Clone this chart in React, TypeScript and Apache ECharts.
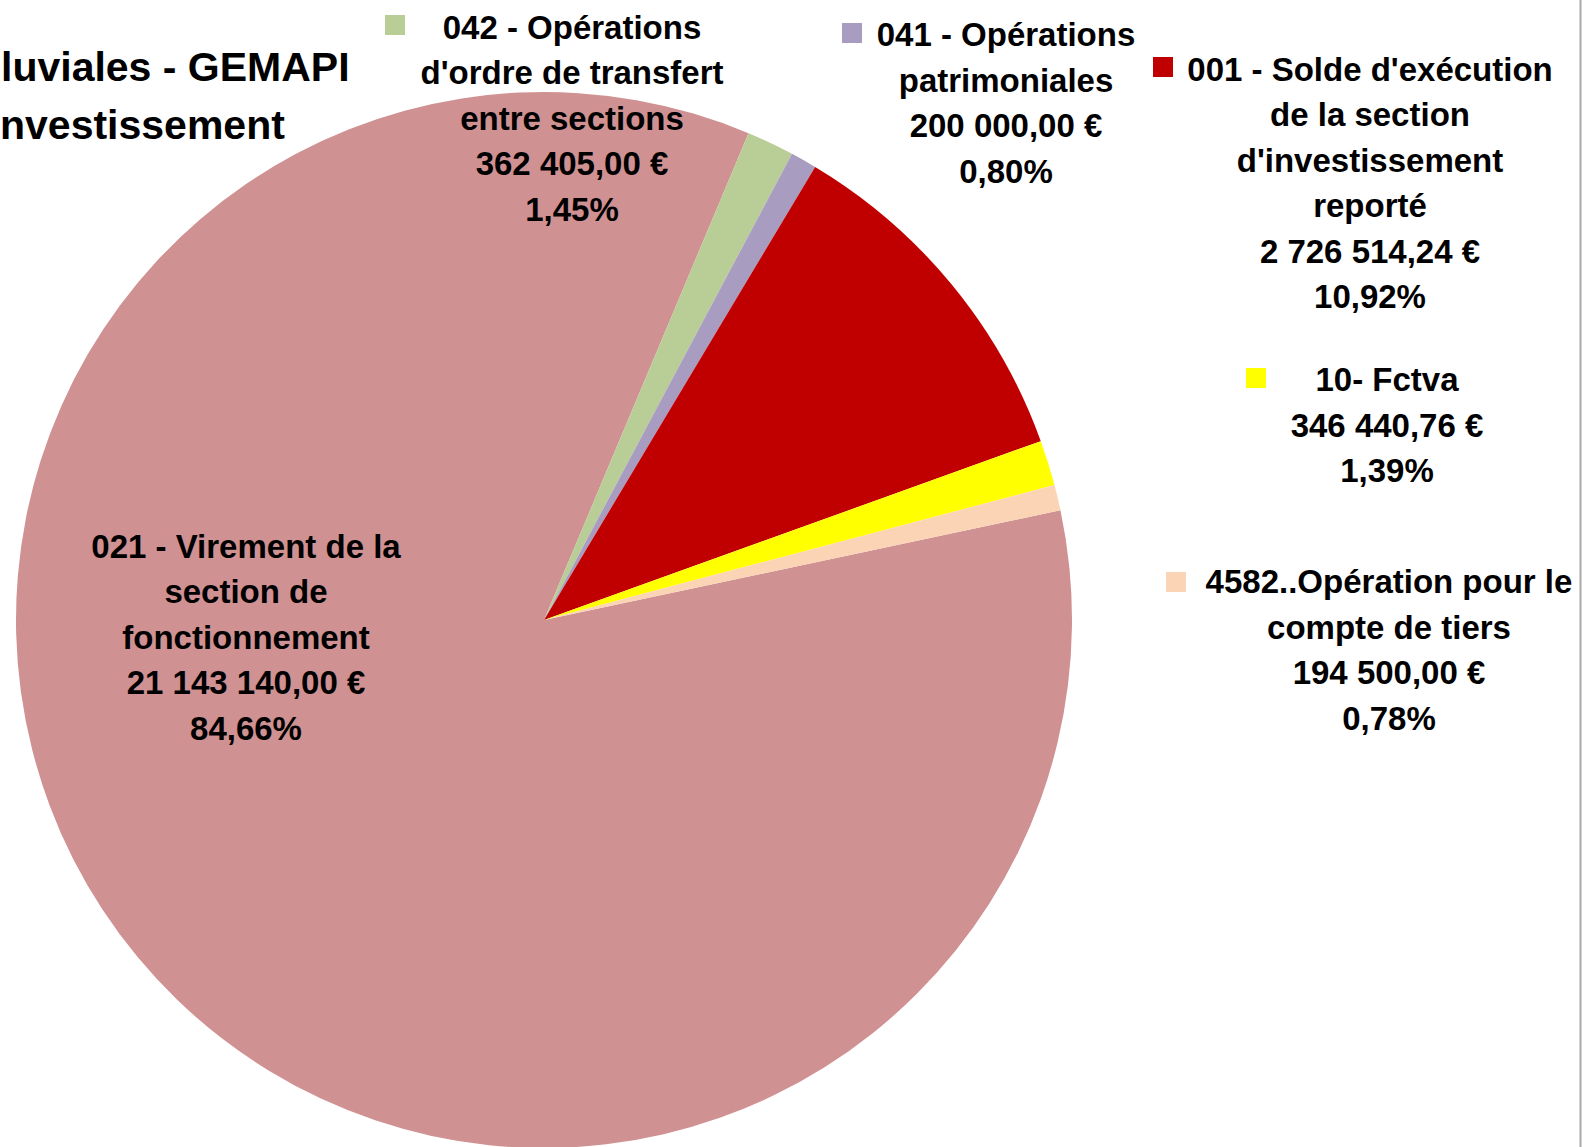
import React, { useEffect, useRef } from "react";
import * as echarts from "echarts";

const categories = [
  "021 - Virement de la\nsection de\nfonctionnement",
  "042 - Opérations\nd'ordre de transfert\nentre sections",
  "041 - Opérations\npatrimoniales",
  "001 - Solde d'exécution\nde la section\nd'investissement\nreporté",
  "10- Fctva",
  "4582..Opération pour le\ncompte de tiers",
];
const values = [21143140, 362405, 200000, 2726514.24, 346440.76, 194500];
const colors = ["#D09192", "#B9CD96", "#A99CC1", "#C00000", "#FFFF00", "#FAD4B5"];
const titleLines = ["luviales - GEMAPI", "nvestissement"];

// label block centres and legend-key positions (layout only)
const labelCenters: number[][] = [
  [246, 637],
  [572, 118],
  [1006, 103],
  [1370, 183],
  [1387, 425],
  [1389, 650],
];
const keyPositions: (number[] | null)[] = [
  null,
  [385, 15],
  [842, 23],
  [1153, 57],
  [1246, 368],
  [1166, 572],
];

const FONT = '"Liberation Sans", Arial, sans-serif';

function fmtEuro(v: number): string {
  const [i, d] = v.toFixed(2).split(".");
  return i.replace(/\B(?=(\d{3})+(?!\d))/g, " ") + "," + d + " €";
}

export default function App() {
  const ref = useRef<HTMLDivElement>(null);
  useEffect(() => {
    document.body.style.margin = "0";
    if (!ref.current) return;
    const chart = echarts.init(ref.current, null, { renderer: "svg" });
    const graphics: any[] = [];
    keyPositions.forEach((p, i) => {
      if (!p) return;
      graphics.push({
        type: "rect",
        shape: { x: p[0], y: p[1], width: 20, height: 20 },
        style: { fill: colors[i] },
        z: 10,
      });
    });
    graphics.push({
      type: "text",
      x: 1,
      y: 67,
      style: {
        text: titleLines[0],
        fontSize: 41,
        fontWeight: "bold",
        fontFamily: FONT,
        fill: "#000",
        align: "left",
        verticalAlign: "middle",
      },
      z: 10,
    });
    graphics.push({
      type: "text",
      x: 0,
      y: 125,
      style: {
        text: titleLines[1],
        fontSize: 41,
        fontWeight: "bold",
        fontFamily: FONT,
        fill: "#000",
        align: "left",
        verticalAlign: "middle",
      },
      z: 10,
    });
    graphics.push({
      type: "line",
      shape: { x1: 1580.5, y1: 0, x2: 1580.5, y2: 1147 },
      style: { stroke: "#A8A8A8", lineWidth: 2 },
      z: 10,
    });

    chart.setOption({
      animation: false,
      backgroundColor: "#FFFFFF",
      graphic: graphics,
      series: [
        {
          type: "pie",
          center: [544, 620],
          radius: 528,
          startAngle: 12,
          clockwise: true,
          avoidLabelOverlap: false,
          itemStyle: { borderWidth: 0 },
          emphasis: { disabled: true },
          data: categories.map((c, i) => ({
            name: c,
            value: values[i],
            itemStyle: { color: colors[i] },
          })),
          label: {
            show: true,
            position: "inside",
            formatter: (p: any) =>
              p.name + "\n" + fmtEuro(p.value) + "\n" + p.percent.toFixed(2).replace(".", ",") + "%",
            color: "#000",
            fontSize: 33,
            fontWeight: "bold",
            fontFamily: FONT,
            lineHeight: 45.5,
            align: "center",
          },
          labelLine: { show: false },
          labelLayout: (p: any) => {
            const c = labelCenters[p.dataIndex];
            return { x: c[0], y: c[1], align: "center", verticalAlign: "middle", hideOverlap: false };
          },
        },
      ],
    });
    return () => chart.dispose();
  }, []);
  return <div ref={ref} style={{ width: 1582, height: 1147 }} />;
}
